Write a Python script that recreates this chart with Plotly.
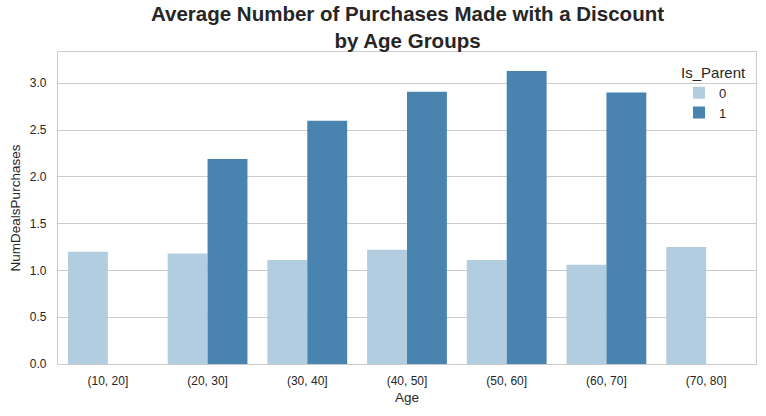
import plotly.graph_objects as go

age_groups = ["(10, 20]", "(20, 30]", "(30, 40]", "(40, 50]", "(50, 60]", "(60, 70]", "(70, 80]"]
parent_0 = [1.20, 1.18, 1.11, 1.22, 1.11, 1.06, 1.25]
parent_1 = [None, 2.19, 2.60, 2.91, 3.13, 2.90, None]
y_ticks = [0.0, 0.5, 1.0, 1.5, 2.0, 2.5, 3.0]
title_lines = ["Average Number of Purchases Made with a Discount", "by Age Groups"]

fig = go.Figure()
fig.add_trace(go.Bar(x=age_groups, y=parent_0, name="0", marker=dict(color="#b3cde0", line=dict(width=0))))
fig.add_trace(go.Bar(x=age_groups, y=parent_1, name="1", marker=dict(color="#4884af", line=dict(width=0))))

font_family = "Liberation Sans, Arial, sans-serif"
fig.update_layout(
    width=766, height=416,
    margin=dict(l=58, r=10, t=52, b=52),
    paper_bgcolor="white", plot_bgcolor="white",
    barmode="group", bargap=0.2, bargroupgap=0,
    font=dict(family=font_family, color="#262626", size=12),
    legend=dict(
        title=dict(text="Is_Parent", side="top", font=dict(size=15)),
        x=0.99, xanchor="right", y=0.98, yanchor="top",
        bgcolor="rgba(255,255,255,0)", font=dict(size=13),
        itemsizing="constant",
    ),
    showlegend=True,
)
fig.add_annotation(
    text="<b>" + "<br>".join(title_lines) + "</b>",
    xref="paper", yref="paper", x=0.5, y=1, xanchor="center", yanchor="bottom",
    yshift=-2, showarrow=False, align="center",
    font=dict(size=20.5, color="#262626", family=font_family),
)
fig.update_xaxes(
    type="category", range=[-0.5, 6.5],
    showline=True, linecolor="#cccccc", linewidth=1.3, mirror=True,
    showgrid=False, ticks="", tickfont=dict(size=12, color="#262626"),
    ticklabelstandoff=5,
    title=dict(text="Age", font=dict(size=13.5, color="#262626"), standoff=6),
)
fig.update_yaxes(
    range=[0, 3.334], tickvals=y_ticks, ticktext=[f"{v:.1f}" for v in y_ticks],
    showline=True, linecolor="#cccccc", linewidth=1.3, mirror=True,
    showgrid=True, gridcolor="#cccccc", gridwidth=1, zeroline=False,
    ticks="", tickfont=dict(size=12, color="#262626"),
    ticklabelstandoff=8,
    title=dict(text="NumDealsPurchases", font=dict(size=13.5, color="#262626"), standoff=6),
)
fig.write_html("out.html")
